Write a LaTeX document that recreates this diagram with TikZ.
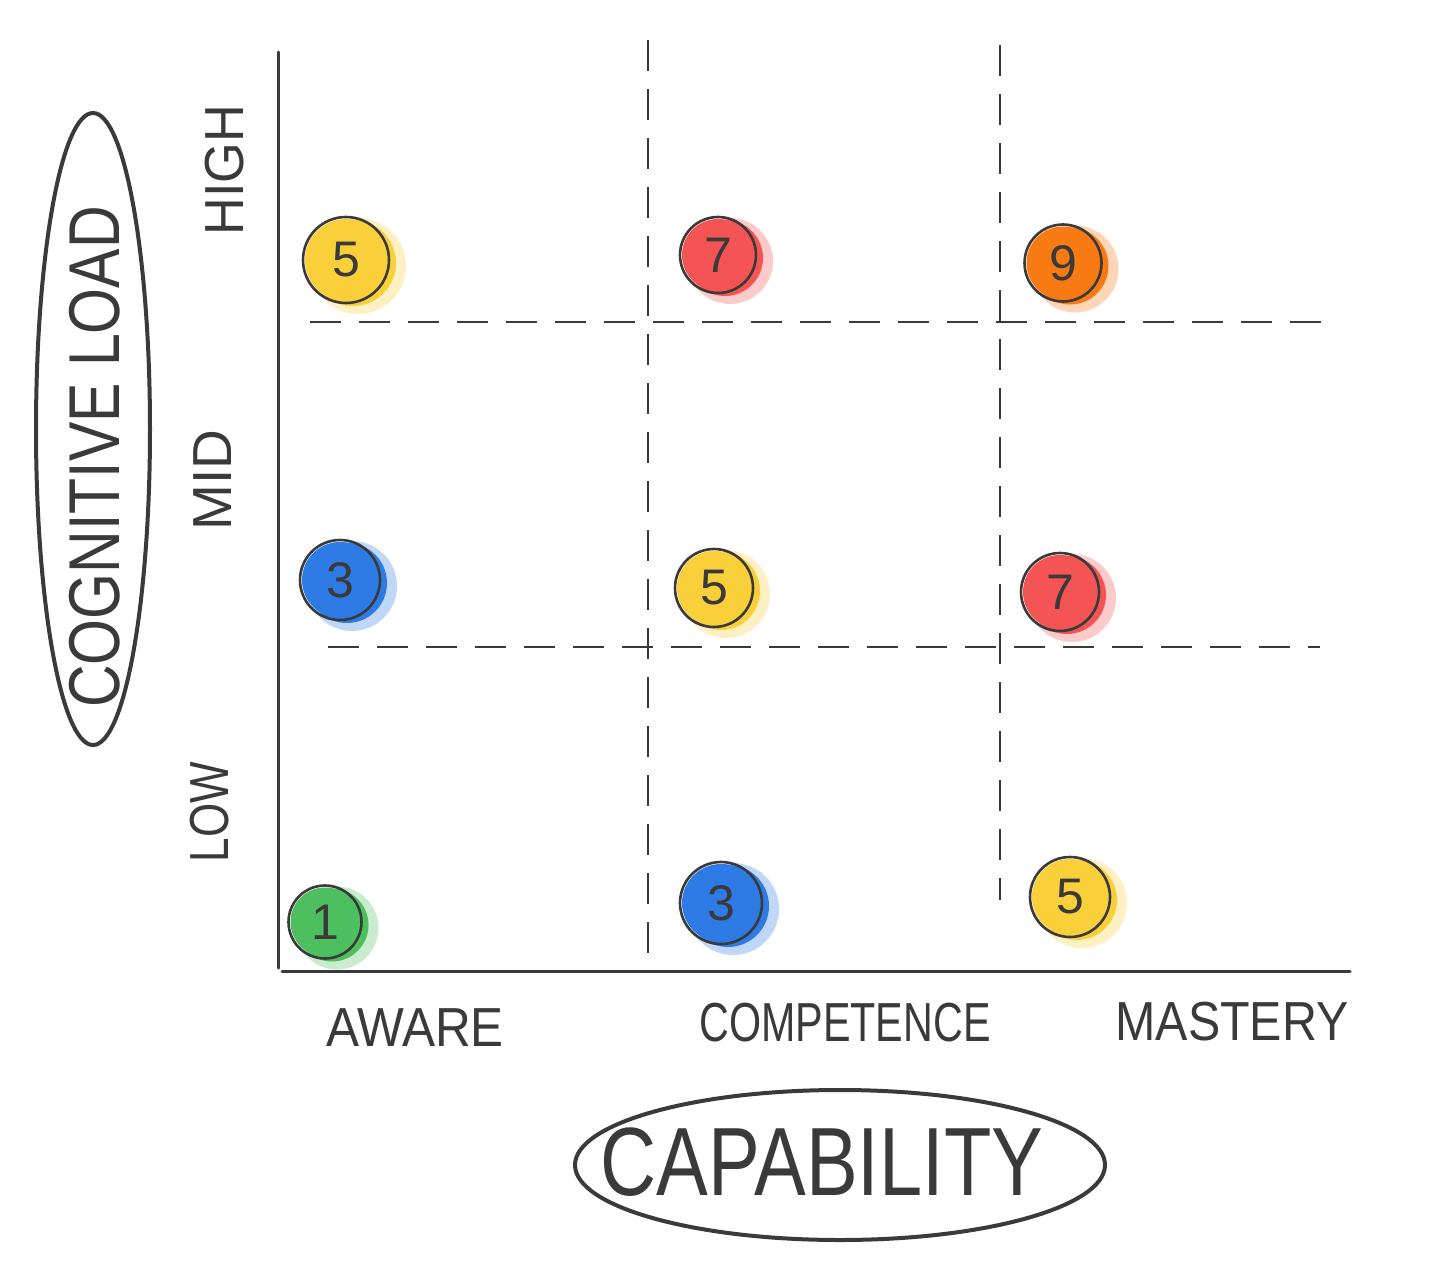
\documentclass[tikz,border=0pt]{standalone}
\usepackage{graphicx}
\usepackage{fontspec}
\setmainfont{Liberation Sans}
\definecolor{ink}{HTML}{3A3A3A}
\definecolor{cyel}{HTML}{F9CF3A}
\definecolor{cred}{HTML}{F45454}
\definecolor{corg}{HTML}{F77A12}
\definecolor{cblu}{HTML}{2F7BE6}
\definecolor{cgrn}{HTML}{4DBF5F}
\begin{document}
\begin{tikzpicture}[x=1pt,y=-1pt,
  axis/.style={line width=3pt, draw=ink, line cap=round},
  dsh/.style={line width=2.6pt, draw=ink, dash pattern=on 31pt off 18pt},
  oval/.style={line width=4pt, draw=ink},
  dot/.style={circle, draw=ink, line width=2.6pt, minimum size=#1, inner sep=0pt,
    font=\fontsize{50}{50}\selectfont, text=ink},
  lbl/.style={text=ink, inner sep=0pt, font=\fontsize{55}{55}\selectfont}]
\useasboundingbox (0,0) rectangle (1442,1284);
\fill[white] (0,0) rectangle (1442,1284);
% grid
\draw[dsh] (648,40) -- (648,955);
\draw[dsh] (1000,45) -- (1000,900);
\draw[dsh] (310,322) -- (1335,322);
\draw[dsh] (328,647) -- (1320,647);
% axes
\draw[axis] (278,52) -- (278,968);
\draw[axis] (282,971) -- (1350,971);
% dots
\foreach \n/\x/\y/\d/\c/\t in {
  hA/346/260/86/cyel/5, hC/718/255/76/cred/7, hM/1063/263/77/corg/9,
  mA/340/580/80/cblu/3, mC/714/588/78/cyel/5, mM/1060/592/78/cred/7,
  lA/325/922/73/cgrn/1, lC/721/903/82/cblu/3, lM/1070/897/80/cyel/5} {
  \fill[\c, opacity=.3] (\x+12,\y+6) circle[radius=\d/2+5];
  \fill[\c] (\x+7,\y+3) circle[radius=\d/2];
  \fill[\c] (\x,\y) circle[radius=\d/2-2];
  \node[dot=\d pt] (\n) at (\x,\y) {\t};
}
% row labels
\node[lbl, rotate=90] (high) at (225,170) {\scalebox{0.95}[1]{HIGH}};
\node[lbl, rotate=90] (mid) at (213,480) {MID};
\node[lbl, rotate=90] (low) at (210,812) {\scalebox{0.8}[1]{LOW}};
% column labels
\node[lbl] (aware) at (415,1028) {\scalebox{0.9}[1]{AWARE}};
\node[lbl] (comp) at (845,1023) {\scalebox{0.75}[1]{COMPETENCE}};
\node[lbl] (mast) at (1232,1022) {\scalebox{0.88}[1]{MASTERY}};
% axis titles
\draw[oval] (93,429) ellipse [x radius=57, y radius=316];
\node[text=ink, inner sep=0pt, rotate=90, font=\fontsize{72}{72}\selectfont] (cog) at (95,457) {\scalebox{0.82}[1]{COGNITIVE LOAD}};
\draw[oval] (840,1165) ellipse [x radius=265, y radius=75];
\node[text=ink, inner sep=0pt, font=\fontsize{97}{97}\selectfont] (cap) at (822,1162) {\scalebox{0.8}[1]{CAPABILITY}};
\end{tikzpicture}
\end{document}
